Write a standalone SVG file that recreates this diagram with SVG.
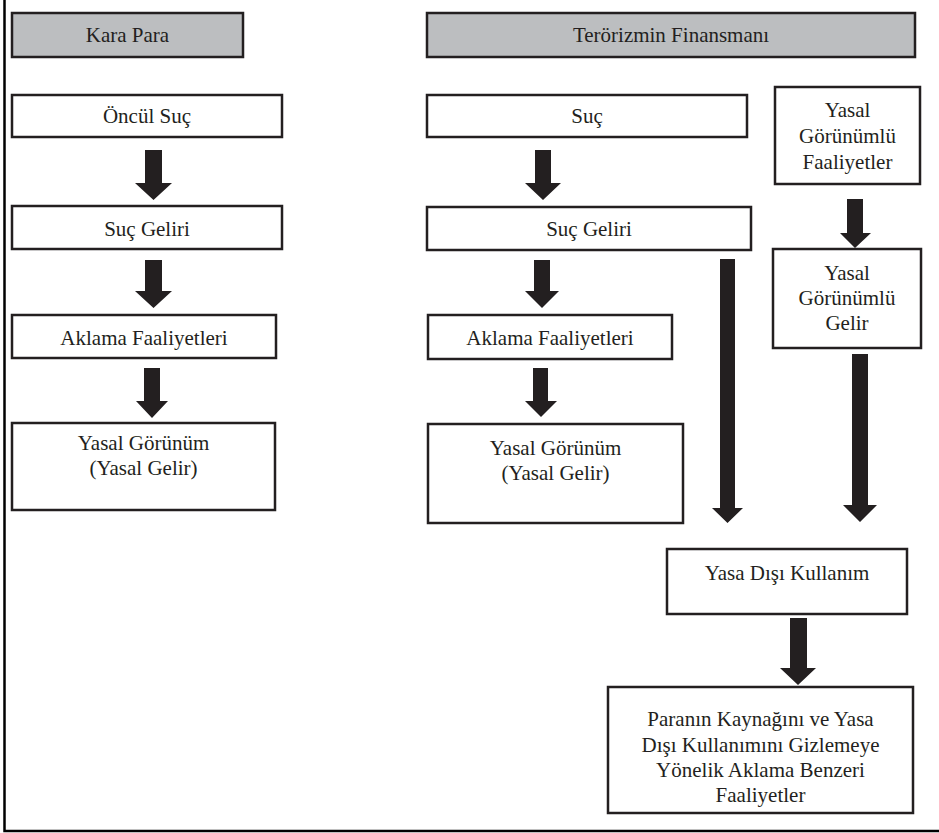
<svg xmlns="http://www.w3.org/2000/svg" width="939" height="833" viewBox="0 0 939 833">
<style>
  .box { fill: #ffffff; stroke: #231f20; stroke-width: 2.5; }
  .hdr { fill: #bcbec0; stroke: #231f20; stroke-width: 2.5; }
  .t { font-family: 'Liberation Serif', 'Times New Roman', 'DejaVu Serif', serif; font-size: 21px; fill: #231f20; text-anchor: middle; }
  .arr { fill: #231f20; stroke: none; }
  .frame { stroke: #000000; stroke-width: 2.5; fill: none; }
</style>
<rect width="939" height="833" fill="#ffffff"/>
<path class="frame" d="M4.5,0 V831 H939"/>

<g id="hdr-kara-para">
  <rect class="hdr" x="12" y="13" width="231" height="44"/>
  <text class="t" x="127.5" y="42">Kara Para</text>
</g>
<g id="hdr-terorizm">
  <rect class="hdr" x="427" y="13" width="488" height="44"/>
  <text class="t" x="671" y="42">Terörizmin Finansmanı</text>
</g>

<g id="l-oncul-suc">
  <rect class="box" x="12" y="95" width="270" height="42"/>
  <text class="t" x="147" y="123">Öncül Suç</text>
</g>
<g id="l-suc-geliri">
  <rect class="box" x="12" y="206" width="270" height="43"/>
  <text class="t" x="147" y="236">Suç Geliri</text>
</g>
<g id="l-aklama">
  <rect class="box" x="12" y="315" width="264" height="43"/>
  <text class="t" x="144" y="345">Aklama Faaliyetleri</text>
</g>
<g id="l-yasal-gorunum">
  <rect class="box" x="12" y="423" width="263" height="87"/>
  <text class="t" x="143.5" y="450">Yasal Görünüm</text>
  <text class="t" x="143.5" y="475">(Yasal Gelir)</text>
</g>

<g id="r-suc">
  <rect class="box" x="427" y="95" width="320" height="42"/>
  <text class="t" x="587" y="123">Suç</text>
</g>
<g id="r-suc-geliri">
  <rect class="box" x="427" y="207" width="324" height="43"/>
  <text class="t" x="589" y="236">Suç Geliri</text>
</g>
<g id="r-aklama">
  <rect class="box" x="428" y="315" width="244" height="44"/>
  <text class="t" x="550" y="345">Aklama Faaliyetleri</text>
</g>
<g id="r-yasal-gorunum">
  <rect class="box" x="428" y="424" width="255" height="99"/>
  <text class="t" x="555.5" y="455">Yasal Görünüm</text>
  <text class="t" x="555.5" y="480">(Yasal Gelir)</text>
</g>

<g id="yg-faaliyetler">
  <rect class="box" x="775" y="87" width="145" height="97"/>
  <text class="t" x="847.5" y="117">Yasal</text>
  <text class="t" x="847.5" y="143">Görünümlü</text>
  <text class="t" x="847.5" y="169">Faaliyetler</text>
</g>
<g id="yg-gelir">
  <rect class="box" x="773" y="249" width="148" height="99"/>
  <text class="t" x="847" y="280">Yasal</text>
  <text class="t" x="847" y="305">Görünümlü</text>
  <text class="t" x="847" y="330">Gelir</text>
</g>

<g id="yasa-disi">
  <rect class="box" x="667" y="549" width="240" height="65"/>
  <text class="t" x="787" y="580">Yasa Dışı Kullanım</text>
</g>
<g id="aklama-benzeri">
  <rect class="box" x="608" y="687" width="305" height="126"/>
  <text class="t" x="760.5" y="726">Paranın Kaynağını ve Yasa</text>
  <text class="t" x="760.5" y="752">Dışı Kullanımını Gizlemeye</text>
  <text class="t" x="760.5" y="777">Yönelik Aklama Benzeri</text>
  <text class="t" x="760.5" y="802">Faaliyetler</text>
</g>

<g id="connectors">
  <polygon class="arr" points="145,150 162,150 162,183 172,183 153.5,200 135,183 145,183"/>
  <polygon class="arr" points="145,260 162,260 162,291 172,291 153.5,308 135,291 145,291"/>
  <polygon class="arr" points="144,368 160,368 160,401 168,401 152,418 136,401 144,401"/>

  <polygon class="arr" points="535,150 551,150 551,183 561,183 543,200 525,183 535,183"/>
  <polygon class="arr" points="534,260 550,260 550,291 559,291 542,308 525,291 534,291"/>
  <polygon class="arr" points="533,368 548,368 548,401 557,401 541,417 525,401 533,401"/>

  <polygon class="arr" points="720,259 735,259 735,508 743,508 727.5,523 712,508 720,508"/>
  <polygon class="arr" points="847,199 863,199 863,233 871,233 855,248 840,233 847,233"/>
  <polygon class="arr" points="852,354 868,354 868,505 877,505 860,522 843,505 852,505"/>
  <polygon class="arr" points="790,618 807,618 807,668 816,668 798,685 780,668 790,668"/>
</g>
</svg>
